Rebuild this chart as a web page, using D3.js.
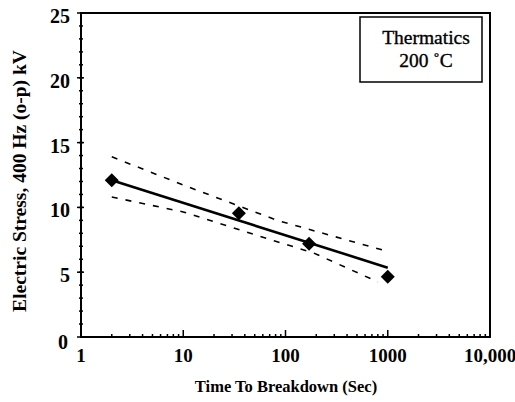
<!DOCTYPE html>
<html><head><meta charset="utf-8">
<script src="https://cdn.jsdelivr.net/npm/d3@7"></script>
<style>body{margin:0;background:#fff}svg{display:block}text{font-family:"Liberation Serif","Times New Roman",serif}</style>
</head><body><svg id="c" width="515" height="402"></svg>
<script>
// data
const pointTime = [2, 35, 170, 1000];
const pointStress = [12.1, 9.55, 7.2, 4.65];
const fitTime = [2, 1000];
const fitStress = [12.1, 5.35];
const upperTime = [2, 11, 83, 233, 1000];
const upperStress = [13.9, 11.6, 9.0, 8.0, 6.6];
const lowerTime = [2, 10, 83, 186, 800];
const lowerStress = [10.8, 9.65, 7.35, 6.5, 4.25];
const xTicks = [1, 10, 100, 1000, 10000];
const xTickLabels = ["1", "10", "100", "1000", "10,000"];
const yTicks = [0, 5, 10, 15, 20, 25];
const legendLines = ["Thermatics", "200 \u02DAC"];
const xTitle = "Time To Breakdown (Sec)";
const yTitle = "Electric Stress, 400 Hz (o-p) kV";

const L = 81, R = 490, T = 13, B = 337;
const svg = d3.select("#c");
const x = d3.scaleLog().domain([1, 10000]).range([L, R]);
const y = d3.scaleLinear().domain([0, 25]).range([B, T]);

// minor ticks bottom (inward)
const minorX = [];
for (let d = 1; d < 10000; d *= 10) for (let k = 2; k <= 9; k++) minorX.push(d * k);
svg.append("g").selectAll("line").data(minorX).join("line")
  .attr("x1", d => x(d)).attr("x2", d => x(d)).attr("y1", B).attr("y2", B - 3)
  .attr("stroke", "#000").attr("stroke-width", 1.5);
svg.append("g").selectAll("line").data(xTicks).join("line")
  .attr("x1", d => x(d)).attr("x2", d => x(d)).attr("y1", B).attr("y2", B - 7)
  .attr("stroke", "#000").attr("stroke-width", 1.5);
// minor ticks left
const minorY = d3.range(1, 25);
svg.append("g").selectAll("line").data(minorY).join("line")
  .attr("x1", L - 2).attr("x2", L + 2).attr("y1", d => y(d)).attr("y2", d => y(d))
  .attr("stroke", "#000").attr("stroke-width", 1.5);
svg.append("g").selectAll("line").data(yTicks).join("line")
  .attr("x1", L - 4).attr("x2", L + 3).attr("y1", d => y(d)).attr("y2", d => y(d))
  .attr("stroke", "#000").attr("stroke-width", 1.5);

// frame
svg.append("rect").attr("x", L).attr("y", T).attr("width", R - L).attr("height", B - T)
  .attr("fill", "none").attr("stroke", "#000").attr("stroke-width", 2);

// tick labels
svg.append("g").selectAll("text").data(xTicks).join("text")
  .attr("x", d => x(d)).attr("y", 362).attr("text-anchor", "middle")
  .attr("font-weight", "bold").attr("font-size", 19)
  .text((d, i) => xTickLabels[i]);
svg.append("g").selectAll("text").data(yTicks).join("text")
  .attr("x", d => d === 0 ? 68 : 70).attr("y", d => y(d) + (d === 0 ? 5 : 3)).attr("dy", "0.35em")
  .attr("text-anchor", "end")
  .attr("font-weight", "bold").attr("font-size", 20)
  .text(d => d);

// titles
svg.append("text").attr("x", 286).attr("y", 392).attr("text-anchor", "middle")
  .attr("font-weight", "bold").attr("font-size", 16.5).text(xTitle);
svg.append("text").attr("transform", "translate(26,181) rotate(-90)").attr("text-anchor", "middle")
  .attr("font-weight", "bold").attr("font-size", 19.5).text(yTitle);

// bands
const line = d3.line().x(d => x(d[0])).y(d => y(d[1]));
svg.append("path").datum(upperTime.map((t, i) => [t, upperStress[i]])).attr("d", line)
  .attr("fill", "none").attr("stroke", "#000").attr("stroke-width", 1.6).attr("stroke-dasharray", "6,8");
svg.append("path").datum(lowerTime.map((t, i) => [t, lowerStress[i]])).attr("d", line)
  .attr("fill", "none").attr("stroke", "#000").attr("stroke-width", 1.6).attr("stroke-dasharray", "6,8");
svg.append("path").datum(fitTime.map((t, i) => [t, fitStress[i]])).attr("d", line)
  .attr("fill", "none").attr("stroke", "#000").attr("stroke-width", 2.6);

// points (diamonds)
svg.append("g").selectAll("path").data(pointTime.map((t, i) => [t, pointStress[i]])).join("path")
  .attr("transform", d => `translate(${x(d[0])},${y(d[1])})`)
  .attr("d", "M0,-7L7,0L0,7L-7,0Z").attr("fill", "#000");

// legend box
svg.append("rect").attr("x", 360).attr("y", 17).attr("width", 122).attr("height", 65)
  .attr("fill", "#fff").attr("stroke", "#000").attr("stroke-width", 1.5);
svg.append("g").selectAll("text").data(legendLines).join("text")
  .attr("x", 426).attr("y", (d, i) => 44 + i * 23).attr("text-anchor", "middle")
  .attr("font-size", 19.5).attr("stroke", "#000").attr("stroke-width", 0.35)
  .text(d => d);
</script></body></html>
